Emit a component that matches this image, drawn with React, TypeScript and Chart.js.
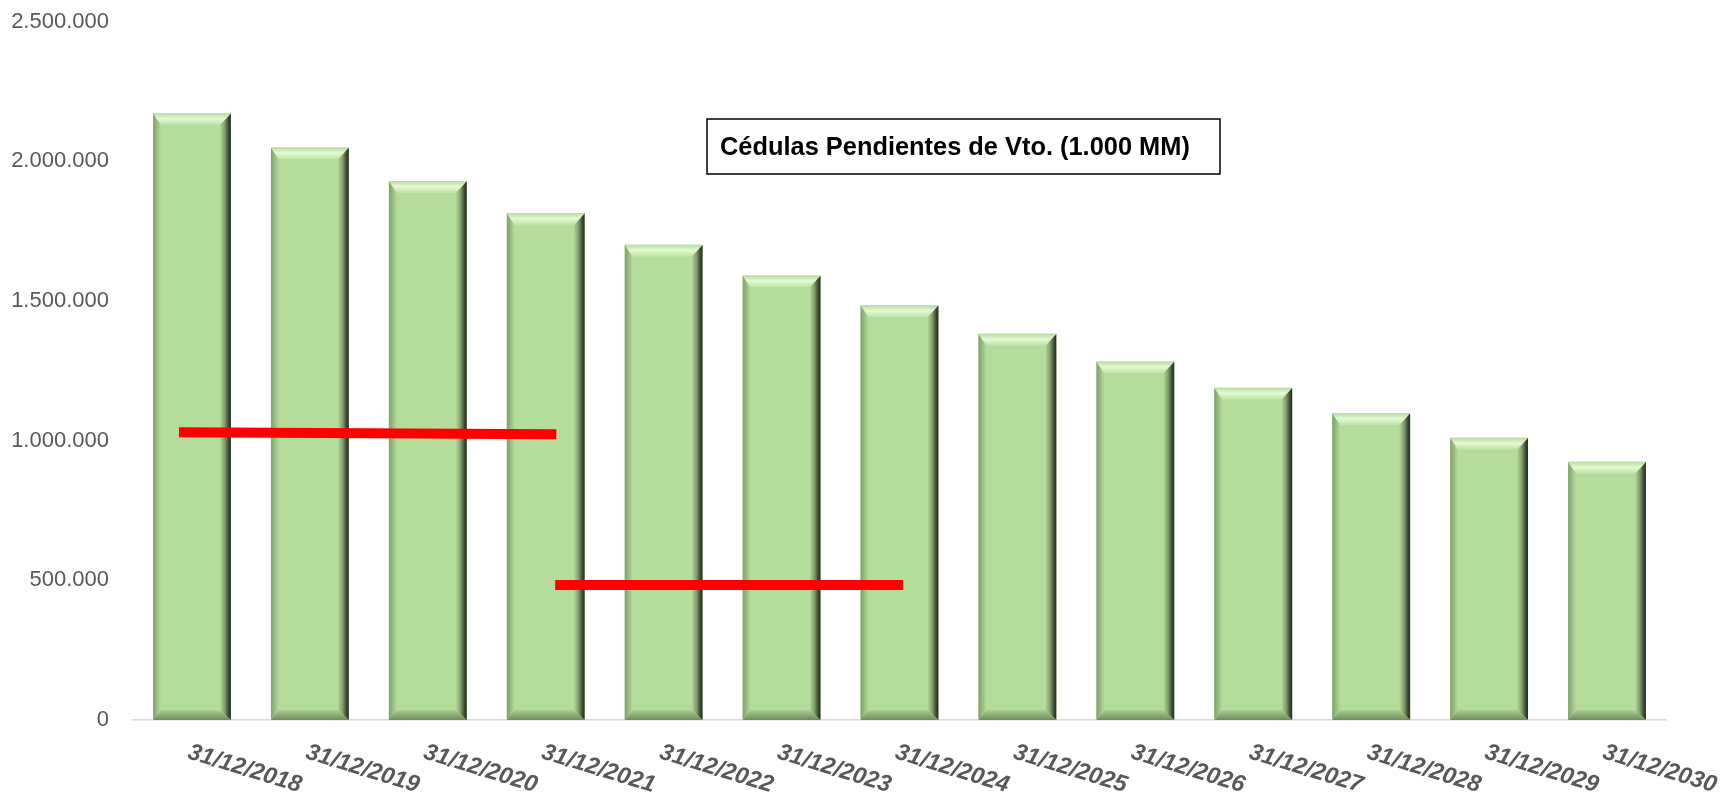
import React, { useEffect, useRef } from "react";
import { Chart, registerables } from "chart.js";

Chart.register(...registerables);

const categories = [
  "31/12/2018", "31/12/2019", "31/12/2020", "31/12/2021", "31/12/2022",
  "31/12/2023", "31/12/2024", "31/12/2025", "31/12/2026", "31/12/2027",
  "31/12/2028", "31/12/2029", "31/12/2030",
];
const pendingValues = [
  2172000, 2049000, 1929000, 1814000, 1701000, 1591000, 1484000,
  1382000, 1283000, 1189000, 1098000, 1010000, 924000,
];
const redLine1X = [-0.11, 3.09];
const redLine1Y = [1030000, 1023000];
const redLine2X = [3.08, 6.03];
const redLine2Y = [483000, 483000];
const yTicksMin = 0;
const yTicksMax = 2500000;
const yTickStep = 500000;
const titleText = "Cédulas Pendientes de Vto. (1.000 MM)";

const fmt = (v: number) => String(Math.round(v)).replace(/\B(?=(\d{3})+(?!\d))/g, ".");

const bevelPlugin = {
  id: "bevel",
  afterDatasetDraw(chart: any, args: any) {
    if (args.index !== 2) return;
    const ctx = chart.ctx;
    const area = chart.chartArea;
    ctx.save();
    ctx.beginPath();
    ctx.rect(area.left, area.top - 5, area.right - area.left, area.bottom - area.top + 5);
    ctx.clip();
    args.meta.data.forEach((el: any) => {
      const { x, y, base, width } = el.getProps(["x", "y", "base", "width"], true);
      const l = x - width / 2, r = x + width / 2, t = y, b = base;
      const sL = 8, sR = 11, sT = 12, sB = 10;
      const il = l + sL, ir = r - sR, it = t + sT, ib = b - sB;
      const poly = (pts: number[][], fill: any) => {
        ctx.beginPath();
        ctx.moveTo(pts[0][0], pts[0][1]);
        for (let i = 1; i < pts.length; i++) ctx.lineTo(pts[i][0], pts[i][1]);
        ctx.closePath();
        ctx.fillStyle = fill;
        ctx.fill();
      };
      let g = ctx.createLinearGradient(l, 0, il, 0);
      g.addColorStop(0, "#809f6d");
      g.addColorStop(1, "#b4dc9a");
      poly([[l, t], [il, it], [il, ib], [l, b]], g);
      g = ctx.createLinearGradient(ir, 0, r, 0);
      g.addColorStop(0, "#b4dc9a");
      g.addColorStop(0.45, "#7f9c6c");
      g.addColorStop(0.8, "#3b4834");
      g.addColorStop(1, "#262e22");
      poly([[r, t], [ir, it], [ir, ib], [r, b]], g);
      g = ctx.createLinearGradient(0, t, 0, it);
      g.addColorStop(0, "#b9dca2");
      g.addColorStop(0.45, "#e3fad0");
      g.addColorStop(1, "#bde2a4");
      poly([[l, t], [r, t], [ir, it], [il, it]], g);
      g = ctx.createLinearGradient(0, ib, 0, b);
      g.addColorStop(0, "#a9cf90");
      g.addColorStop(1, "#6f8b5e");
      poly([[l, b], [r, b], [ir, ib], [il, ib]], g);
    });
    ctx.restore();
  },
};

const decorPlugin = {
  id: "decor",
  afterDraw(chart: any) {
    const ctx = chart.ctx;
    const xs = chart.scales.x;
    ctx.save();
    ctx.font = "italic bold 23.5px 'Liberation Sans', Arial, sans-serif";
    ctx.fillStyle = "#595959";
    ctx.textAlign = "left";
    ctx.textBaseline = "alphabetic";
    const ang = (17 * Math.PI) / 180;
    categories.forEach((lab, i) => {
      const px = xs.getPixelForTick(i) - 5.5;
      const py = xs.top + 38;
      ctx.save();
      ctx.translate(px, py);
      ctx.rotate(ang);
      ctx.fillText(lab, 0, 0);
      ctx.restore();
    });
    const bx = 707, by = 119, bw = 513, bh = 55;
    ctx.fillStyle = "#ffffff";
    ctx.fillRect(bx, by, bw, bh);
    ctx.strokeStyle = "#000000";
    ctx.lineWidth = 1.5;
    ctx.strokeRect(bx, by, bw, bh);
    ctx.fillStyle = "#000000";
    ctx.font = "bold 25.4px 'Liberation Sans', Arial, sans-serif";
    ctx.textAlign = "left";
    ctx.textBaseline = "middle";
    ctx.fillText(titleText, 720, by + bh / 2 + 1);
    ctx.restore();
  },
};

export default function App() {
  const ref = useRef<HTMLCanvasElement | null>(null);
  useEffect(() => {
    document.body.style.margin = "0";
    const canvas = ref.current!;
    const chart = new Chart(canvas, {
      type: "bar",
      data: {
        labels: categories,
        datasets: [
          {
            type: "line",
            data: redLine1X.map((x, i) => ({ x, y: redLine1Y[i] })),
            xAxisID: "xl",
            yAxisID: "y",
            borderColor: "#ff0000",
            borderWidth: 10,
            borderCapStyle: "butt",
            pointRadius: 0,
            fill: false,
            order: 0,
          } as any,
          {
            type: "line",
            data: redLine2X.map((x, i) => ({ x, y: redLine2Y[i] })),
            xAxisID: "xl",
            yAxisID: "y",
            borderColor: "#ff0000",
            borderWidth: 10,
            borderCapStyle: "butt",
            pointRadius: 0,
            fill: false,
            order: 0,
          } as any,
          {
            type: "bar",
            data: pendingValues,
            xAxisID: "x",
            yAxisID: "y",
            backgroundColor: "#b4dc9a",
            borderWidth: 0,
            categoryPercentage: 1,
            barPercentage: 0.66,
            grouped: false,
            order: 1,
          } as any,
        ],
      },
      options: {
        animation: false,
        responsive: false,
        devicePixelRatio: 1,
        layout: { padding: { top: 21.5, right: 58, left: 0, bottom: 0 } },
        plugins: { legend: { display: false }, tooltip: { enabled: false }, title: { display: false } },
        scales: {
          x: {
            type: "category",
            position: "bottom",
            offset: true,
            grid: { display: false, drawTicks: false },
            border: { display: true, color: "#d9d9d9", width: 1.5 },
            ticks: { display: false },
            afterFit: (s: any) => { s.height = 73; },
          },
          xl: {
            type: "linear",
            position: "bottom",
            display: false,
            offset: false,
            min: -0.5,
            max: 12.5,
          },
          y: {
            type: "linear",
            min: yTicksMin,
            max: yTicksMax,
            grid: { display: false, drawTicks: false },
            border: { display: false },
            ticks: {
              stepSize: yTickStep,
              padding: 24,
              color: "#595959",
              font: { family: "'Liberation Sans', Arial, sans-serif", size: 22 },
              callback: (v: any) => fmt(Number(v)),
            },
            afterFit: (s: any) => {
              s.width = 133;
              s.paddingTop = 0;
              s.paddingBottom = 0;
            },
          },
        },
      } as any,
      plugins: [bevelPlugin, decorPlugin],
    });
    return () => chart.destroy();
  }, []);
  return <canvas ref={ref} width={1724} height={793} style={{ display: "block" }} />;
}
